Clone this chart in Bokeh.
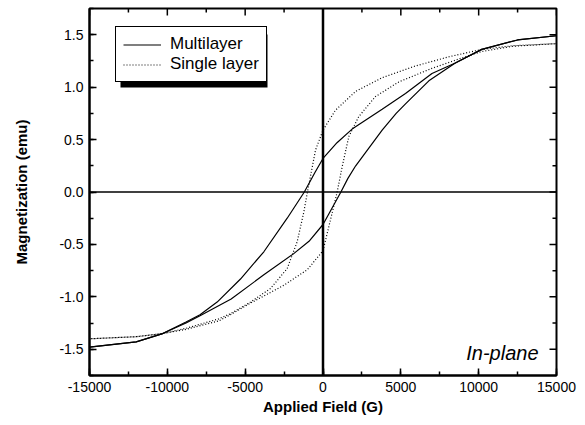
import numpy as np
from bokeh.plotting import figure
from bokeh.models import (Range1d, LinearAxis, SingleIntervalTicker, NumeralTickFormatter,
                          Span, Legend, LegendItem, BoxAnnotation, Label)
from bokeh.embed import file_html
from bokeh.resources import INLINE

# ---- data ----
ml_desc_h = [15000, 12500, 10200, 8500, 7000, 5300, 3800, 1870, 900, 0, -500, -1200, -2300,
             -3800, -5300, -6800, -7900, -8800, -10300, -12000, -15000]
ml_desc_m = [1.49, 1.45, 1.36, 1.23, 1.13, 0.94, 0.79, 0.60, 0.47, 0.32, 0.19, 0.0, -0.25,
             -0.57, -0.83, -1.05, -1.17, -1.24, -1.35, -1.43, -1.48]

ml_asc_h = [-15000, -12000, -10300, -8800, -7900, -5900, -3800, -1900, -900, 0, 1150, 1600,
            2100, 3800, 4700, 5300, 6800, 8500, 10200, 12500, 15000]
ml_asc_m = [-1.48, -1.43, -1.35, -1.25, -1.18, -1.02, -0.79, -0.59, -0.47, -0.31, 0.0, 0.13,
            0.25, 0.59, 0.75, 0.84, 1.06, 1.23, 1.36, 1.45, 1.49]

sl_desc_h = [15000, 12200, 10200, 8100, 5900, 3800, 2100, 800, 0, -480, -1000, -1230,
             -1660, -2300, -3370, -4660, -5940, -6700, -8800, -10300, -12000, -15000]
sl_desc_m = [1.415, 1.395, 1.36, 1.29, 1.20, 1.09, 0.96, 0.78, 0.59, 0.40, 0.0, -0.19,
             -0.475, -0.73, -0.92, -1.05, -1.16, -1.21, -1.30, -1.35, -1.38, -1.40]

sl_asc_h = [-15000, -12000, -10300, -8800, -6700, -5940, -4660, -2520, -1000, 0, 375, 700,
            910, 1230, 1660, 2300, 3370, 4870, 7010, 9150, 10200, 12200, 15000]
sl_asc_m = [-1.40, -1.38, -1.35, -1.31, -1.23, -1.17, -1.06, -0.89, -0.74, -0.56, -0.33, -0.13,
            0.0, 0.24, 0.53, 0.72, 0.91, 1.05, 1.18, 1.29, 1.34, 1.39, 1.415]

series_labels = ["Multilayer", "Single layer"]
x_title = "Applied Field (G)"
y_title = "Magnetization (emu)"
note = "In-plane"

FONT = "Liberation Sans"
X0, X1, XSTEP = -15000, 15000, 5000
Y0, Y1, YSTEP = -1.75, 1.75, 0.5
FW, FH = 467, 367
LEFT, TOP = 89, 8

p = figure(width=580, height=420, output_backend="svg", toolbar_location=None,
           x_range=Range1d(X0, X1), y_range=Range1d(Y0, Y1),
           x_axis_type=None, y_axis_type=None,
           min_border_left=LEFT, min_border_right=580 - LEFT - FW,
           min_border_top=TOP, min_border_bottom=420 - TOP - FH)
p.outline_line_color = "black"
p.outline_line_width = 2
p.background_fill_color = "white"
p.border_fill_color = "white"


def make_axis(ticker, fmt, label):
    ax = LinearAxis(ticker=ticker, formatter=fmt)
    ax.axis_line_width = 2
    ax.axis_line_color = "black"
    ax.major_tick_in = 7
    ax.major_tick_out = 0
    ax.minor_tick_in = 4
    ax.minor_tick_out = 0
    ax.major_tick_line_width = 1.5
    ax.minor_tick_line_width = 1.5
    ax.major_tick_line_color = "black"
    ax.minor_tick_line_color = "black"
    ax.major_label_text_font = FONT
    ax.major_label_text_font_size = "14px"
    ax.major_label_text_color = "black"
    ax.axis_label = label
    ax.axis_label_text_font = FONT
    ax.axis_label_text_font_size = "15px"
    ax.axis_label_text_font_style = "bold"
    ax.axis_label_text_color = "black"
    return ax


xt = SingleIntervalTicker(interval=XSTEP, num_minor_ticks=2)
yt = SingleIntervalTicker(interval=YSTEP, num_minor_ticks=2)

bx = make_axis(xt, NumeralTickFormatter(format="0"), x_title)
bx.major_label_standoff = 6
bx.axis_label_standoff = 3
p.add_layout(bx, "below")

ly = make_axis(yt, NumeralTickFormatter(format="0.0"), y_title)
ly.major_label_standoff = 6
ly.axis_label_standoff = 26
p.add_layout(ly, "left")

# mirrored inward ticks on the top and right frame edges
xpx = (X1 - X0) / FW
ypx = (Y1 - Y0) / FH
x_major = np.arange(X0, X1 + 1, XSTEP)
x_minor = np.arange(X0 + XSTEP / 2, X1, XSTEP)
y_major = np.arange(-1.5, 1.5 + 1e-9, YSTEP)
y_minor = np.arange(-1.25, 1.25 + 1e-9, YSTEP)
for xs, ln in ((x_major, 7), (x_minor, 4)):
    p.segment(x0=xs, y0=np.full(len(xs), Y1), x1=xs, y1=np.full(len(xs), Y1 - ln * ypx),
              line_color="black", line_width=1.5)
for ys, ln in ((y_major, 7), (y_minor, 4)):
    p.segment(x0=np.full(len(ys), X1), y0=ys, x1=np.full(len(ys), X1 - ln * xpx), y1=ys,
              line_color="black", line_width=1.5)

# zero lines
p.add_layout(Span(location=0, dimension="height", line_color="black", line_width=2.5))
p.add_layout(Span(location=0, dimension="width", line_color="black", line_width=1.5))

r1 = p.line(ml_desc_h, ml_desc_m, line_color="black", line_width=1.2)
r2 = p.line(ml_asc_h, ml_asc_m, line_color="black", line_width=1.2)
r3 = p.line(sl_desc_h, sl_desc_m, line_color="black", line_width=1.2, line_dash="1 2")
r4 = p.line(sl_asc_h, sl_asc_m, line_color="black", line_width=1.2, line_dash="1 2")


def px_x(px):
    return X0 + px * xpx


def px_y(py):
    return Y1 - py * ypx


# legend shadow (pixel offsets from the frame's top-left corner)
shadow = BoxAnnotation(left=px_x(31), right=px_x(178), top=px_y(26), bottom=px_y(79),
                       fill_color="black", fill_alpha=1.0, line_color=None)
p.add_layout(shadow)

legend = Legend(items=[LegendItem(label=series_labels[0], renderers=[r1]),
                       LegendItem(label=series_labels[1], renderers=[r3])],
                location=(26, FH - 74), border_line_color="black", border_line_width=1,
                border_line_alpha=1.0, background_fill_color="white", background_fill_alpha=1.0,
                label_text_font=FONT, label_text_font_size="17px", label_text_color="black",
                glyph_width=38, glyph_height=19, label_height=19, label_standoff=9,
                padding=7, spacing=0, margin=0)
p.add_layout(legend)

p.add_layout(Label(x=px_x(449), y=px_y(344), text=note, text_font=FONT,
                   text_font_style="italic", text_font_size="20px", text_color="black",
                   text_align="right", text_baseline="alphabetic"))

open("out.html", "w").write(file_html(p, INLINE))
